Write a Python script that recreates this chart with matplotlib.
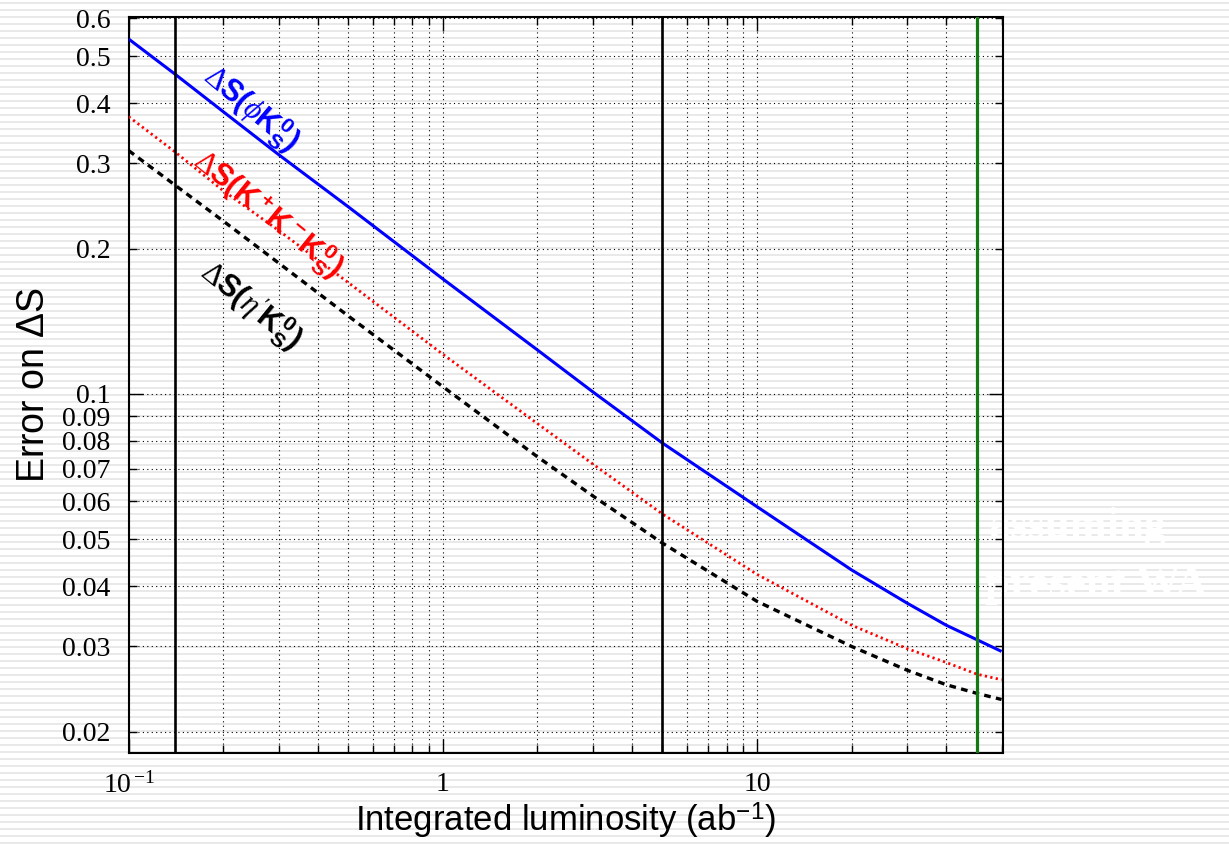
import numpy as np
import matplotlib
matplotlib.use('Agg')
import matplotlib.pyplot as plt
from matplotlib.ticker import FixedLocator, FixedFormatter, NullFormatter
from matplotlib.lines import Line2D

# ---- data ----
lumi = [0.1, 0.14, 0.2, 0.3, 0.5, 1, 2, 3, 5, 10, 20, 30, 40, 50, 60]
err_phiks = [0.543, 0.460, 0.384, 0.313, 0.244, 0.173, 0.1233, 0.101, 0.0791,
             0.0584, 0.0432, 0.0369, 0.0332, 0.0310, 0.0293]
err_kkks = [0.375, 0.3175, 0.2634, 0.218, 0.170, 0.1208, 0.0868, 0.0716, 0.0564,
            0.0423, 0.0332, 0.0297, 0.0278, 0.0263, 0.0256]
err_etapks = [0.319, 0.271, 0.228, 0.1867, 0.145, 0.1035, 0.0741, 0.0615, 0.0491,
              0.0372, 0.0300, 0.0268, 0.0250, 0.0240, 0.0233]
black_lumi_marks = [0.14, 5.0]
green_lumi_marks = [50.0]

xtick_major = [0.1, 1, 10]
xtick_major_labels = [r'$\mathrm{10}^{\,\mathrm{-1}}$', '1', '10']
xtick_minor = [m * d for d in (0.1, 1, 10) for m in range(2, 10) if m * d <= 60]
ytick_major = [0.1]
ytick_major_labels = ['0.1']
ytick_minor = [0.02, 0.03, 0.04, 0.05, 0.06, 0.07, 0.08, 0.09, 0.2, 0.3, 0.4, 0.5, 0.6]
ytick_minor_labels = ['0.02', '0.03', '0.04', '0.05', '0.06', '0.07', '0.08', '0.09',
                      '0.2', '0.3', '0.4', '0.5', '0.6']

label_phi = r'$\Delta\mathbf{S(}\phi\mathbf{K_S^0)}$'
label_kkk = r'$\Delta\mathbf{S(K^+K^-K_S^0)}$'
label_etap = r'$\Delta\mathbf{S(}\eta^{\prime}\mathbf{K_S^0)}$'

plt.rcParams['mathtext.fontset'] = 'custom'
plt.rcParams['mathtext.rm'] = 'Liberation Serif'
plt.rcParams['mathtext.bf'] = 'Liberation Sans:bold'
plt.rcParams['mathtext.it'] = 'Liberation Serif:italic'
plt.rcParams['mathtext.sf'] = 'Liberation Sans'

W, H = 1229, 844
fig = plt.figure(figsize=(W / 100, H / 100), dpi=100)
fig.patch.set_facecolor('white')

# faint striped slide background
for yy in np.arange(3, H, 7.0):
    fig.add_artist(Line2D([0, 1], [1 - yy / H] * 2, transform=fig.transFigure,
                          color='#e9e9e9', lw=1.4, zorder=-10))

# hidden white text of the slide
fig.text(1078 / W, 1 - 527 / H, 'assuming', color='white', fontsize=32,
         family='Liberation Serif', weight='bold', ha='center', va='center', zorder=-5)
fig.text(985 / W, 1 - 585 / H, 'present WA', color='white', fontsize=32,
         family='Liberation Serif', weight='bold', ha='left', va='center', zorder=-5)

L, R, T, B = 128.7, 1002.7, 16.7, 752.7
ax = fig.add_axes([L / W, 1 - B / H, (R - L) / W, (B - T) / H])
ax.set_facecolor('none')
ax.set_xscale('log')
ax.set_yscale('log')
ax.set_xlim(0.1, 60.5)
ax.set_ylim(0.01808, 0.604)

ax.xaxis.set_major_locator(FixedLocator(xtick_major))
ax.xaxis.set_major_formatter(FixedFormatter(xtick_major_labels))
ax.xaxis.set_minor_locator(FixedLocator(xtick_minor))
ax.xaxis.set_minor_formatter(NullFormatter())
ax.yaxis.set_major_locator(FixedLocator(ytick_major))
ax.yaxis.set_major_formatter(FixedFormatter(ytick_major_labels))
ax.yaxis.set_minor_locator(FixedLocator(ytick_minor))
ax.yaxis.set_minor_formatter(FixedFormatter(ytick_minor_labels))

ax.grid(True, which='both', color='black', linestyle=(0, (1, 3)), lw=0.8)
ax.set_axisbelow(True)

for lab in ax.get_xticklabels() + ax.get_yticklabels() + ax.get_yticklabels(minor=True):
    lab.set_family('Liberation Serif')
ax.tick_params(axis='both', which='both', direction='in', top=True, right=True,
               labelsize=20, width=1.0)
ax.tick_params(axis='both', which='major', length=10)
ax.tick_params(axis='both', which='minor', length=6)
ax.tick_params(axis='y', which='both', pad=13)
ax.tick_params(axis='x', which='both', pad=14)

for sp in ax.spines.values():
    sp.set_linewidth(1.5)

ax.plot(lumi, err_phiks, color='#0000ff', lw=2.2, solid_capstyle='butt', zorder=3)
ax.plot(lumi, err_kkks, color='#ff0000', lw=2.0, linestyle=(0, (0.8, 1.2)), zorder=3)
ax.plot(lumi, err_etapks, color='black', lw=2.4, linestyle=(0, (2.0, 1.6)), zorder=3)

for xv in black_lumi_marks:
    ax.axvline(xv, color='black', lw=1.9, zorder=4)
for xv in green_lumi_marks:
    ax.axvline(xv, color='#137a13', lw=2.3, zorder=4)

ax.text(0.245, 0.391, label_phi, color='#0000ff', fontsize=22, rotation=-40,
        rotation_mode='anchor', ha='center', va='center', zorder=5)
ax.text(0.2777, 0.236, label_kkk, color='#ff0000', fontsize=22, rotation=-39,
        rotation_mode='anchor', ha='center', va='center', zorder=5)
ax.text(0.245, 0.1528, label_etap, color='black', fontsize=22, rotation=-39,
        rotation_mode='anchor', ha='center', va='center', zorder=5)

ax.set_xlabel(r'Integrated luminosity (ab$^{\mathsf{-1}}$)', fontsize=25,
              family='Liberation Sans')
ax.set_ylabel(r'Error on $\mathsf{\Delta}$S', fontsize=27, family='Liberation Sans')
ax.xaxis.set_label_coords(0.5, -0.066)
ax.yaxis.set_label_coords(-0.088, 0.5)

fig.savefig('out.png', dpi=100, facecolor='white')
